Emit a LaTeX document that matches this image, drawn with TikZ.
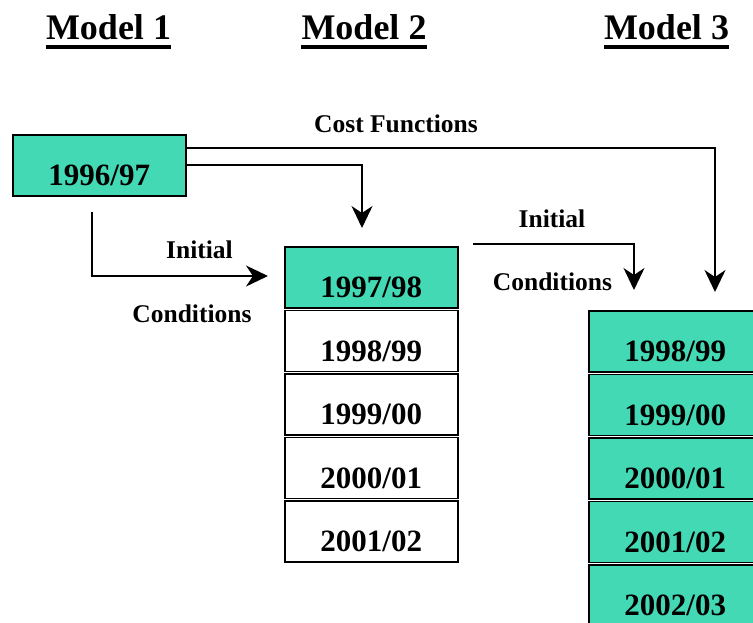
\documentclass[tikz,border=0pt]{standalone}
\usepackage{fontspec}
\setmainfont{Liberation Serif}
\usetikzlibrary{arrows.meta}
\definecolor{boxteal}{RGB}{66,217,180}
\begin{document}
\begin{tikzpicture}[x=1pt,y=-1pt,
  yearbox/.style={draw=black, line width=1.5pt, minimum width=173pt, minimum height=61pt,
    inner sep=0pt, text height=51pt, text depth=10pt,
    font=\fontsize{31}{31}\selectfont\bfseries, anchor=north west},
  filledbox/.style={yearbox, fill=boxteal},
  header/.style={font=\fontsize{36}{36}\selectfont\bfseries, inner sep=0pt, anchor=base},
  lbl/.style={font=\fontsize{25.5}{25.5}\selectfont\bfseries, inner sep=0pt, anchor=base},
  conn/.style={line width=1.8pt, -{Stealth[length=22pt,width=21pt,inset=7pt]}},
]
\clip (0,0) rectangle (753,622);
\fill[white] (0,0) rectangle (753,622);

% headers
\node[header] (h1) at (108.5,39) {Model 1};
\node[header] (h2) at (364,39) {Model 2};
\node[header] (h3) at (666.5,39) {Model 3};
\foreach \h in {h1,h2,h3}{
  \fill ([yshift=-6pt]\h.base west) rectangle ([yshift=-10pt]\h.base east);
}

% model 1
\node[filledbox] (m1) at (12,134) {1996/97};

% model 2
\node[filledbox] (m2a) at (284,246) {1997/98};
\node[yearbox] (m2b) at (284,309.5) {1998/99};
\node[yearbox] (m2c) at (284,373) {1999/00};
\node[yearbox] (m2d) at (284,436.5) {2000/01};
\node[yearbox] (m2e) at (284,500) {2001/02};

% model 3
\node[filledbox] (m3a) at (588,310) {1998/99};
\node[filledbox] (m3b) at (588,373.5) {1999/00};
\node[filledbox] (m3c) at (588,437) {2000/01};
\node[filledbox] (m3d) at (588,500.5) {2001/02};
\node[filledbox] (m3e) at (588,564) {2002/03};

% labels
\node[lbl] (lcf) at (396,132) {Cost Functions};
\node[lbl] (li1) at (199.5,258) {Initial};
\node[lbl] (lc1) at (192,322) {Conditions};
\node[lbl] (li2) at (552,227) {Initial};
\node[lbl] (lc2) at (552.5,290) {Conditions};

% connector end points
\coordinate (y148) at (0,148);
\coordinate (cf2) at (362,228);
\coordinate (cf3) at (715,292);
\coordinate (ic1s) at (92,212);
\coordinate (ic1e) at (268,276);
\coordinate (ic2s) at (473,244);
\coordinate (ic2e) at (634,290);

% connectors
\draw[conn] (m1.east |- y148) -| (cf3);
\draw[conn] (m1.east) -| (cf2);
\draw[conn] (ic1s) |- (ic1e);
\draw[conn] (ic2s) -| (ic2e);
\end{tikzpicture}
\end{document}
